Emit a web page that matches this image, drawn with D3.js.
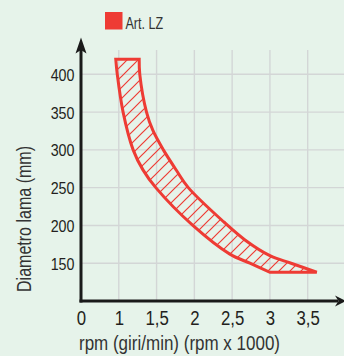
<!DOCTYPE html>
<html><head><meta charset="utf-8">
<script src="https://cdn.jsdelivr.net/npm/d3@7"></script>
<style>
html,body{margin:0;padding:0;background:#e6f3ea;}
svg{display:block;}
text{font-family:"Liberation Sans",Arial,sans-serif;}
</style></head>
<body>
<script>
// ---- data ----
const seriesName = "Art. LZ";
// lower-left boundary (rpm x1000, diameter mm)
const leftRpm  = [0.96, 0.98, 1.057, 1.19, 1.32, 1.49, 1.98, 2.47, 2.735, 3.00];
const leftDia  = [420,  400,  350,   300,  273.5, 250, 200,  162,  150,   138];
// upper-right boundary
const rightRpm = [1.27, 1.278, 1.367, 1.45, 1.59, 1.762, 1.92, 2.39, 2.67, 3.00, 3.28, 3.62];
const rightDia = [420,  400,   350,   326,  300,  273,   250,  204.6, 180.8, 160, 150, 138];
// x ticks: first position labelled "0" (broken axis)
const xTickVals   = [0.5, 1, 1.5, 2, 2.5, 3, 3.5];
const xTickLabels = ["0", "1", "1,5", "2", "2,5", "3", "3,5"];
const yTickVals   = [150, 200, 250, 300, 350, 400];
const xTitle = "rpm (giri/min) (rpm x 1000)";
const yTitle = "Diametro lama (mm)";

// ---- layout ----
const W = 344, H = 356;
const red = "#ee3b34";
const x = d3.scaleLinear().domain([0.5, 3.5]).range([81, 307.7]);
const y = d3.scaleLinear().domain([100, 400]).range([301, 74.3]);
const gridTop = 50, gridRight = 344;

function condense(sel, f) {
  sel.each(function () {
    const L = this.getComputedTextLength();
    d3.select(this).attr("textLength", L * f).attr("lengthAdjust", "spacingAndGlyphs");
  });
}

const svg = d3.select("body").append("svg").attr("width", W).attr("height", H);
svg.append("rect").attr("width", W).attr("height", H).attr("fill", "#e6f3ea");

const defs = svg.append("defs");
const pat = defs.append("pattern").attr("id", "hatch")
  .attr("patternUnits", "userSpaceOnUse").attr("width", 11).attr("height", 11);
pat.append("path").attr("d", "M0,11 L11,0 M-2,2 L2,-2 M9,13 L13,9")
  .attr("stroke", red).attr("stroke-width", 1.2).attr("fill", "none");

// grid
const gv = svg.append("g");
xTickVals.slice(1).forEach(v => {
  gv.append("line").attr("x1", x(v)).attr("x2", x(v)).attr("y1", gridTop).attr("y2", y(100))
    .attr("stroke", "#d3d6d6").attr("stroke-width", 1.4);
});
yTickVals.forEach(v => {
  gv.append("line").attr("x1", x(0.5)).attr("x2", gridRight).attr("y1", y(v)).attr("y2", y(v))
    .attr("stroke", "#d3d6d6").attr("stroke-width", 1.4);
});

// area
const leftPts = leftRpm.map((r, i) => [x(r), y(leftDia[i])]);
const rightPts = rightRpm.map((r, i) => [x(r), y(rightDia[i])]).reverse();
const line = d3.line().curve(d3.curveCatmullRom.alpha(0.5));
const d = line(leftPts) + "L" + line(rightPts).slice(1) + "Z";
svg.append("path").attr("d", d).attr("fill", "url(#hatch)")
  .attr("stroke", red).attr("stroke-width", 3).attr("stroke-linejoin", "miter");

// axes
const ax = svg.append("g");
const ax0 = x(0.5), ay0 = y(100);
ax.append("line").attr("x1", ax0).attr("x2", ax0).attr("y1", 50).attr("y2", ay0 + 1.5)
  .attr("stroke", "#1a1a1a").attr("stroke-width", 3);
ax.append("line").attr("x1", ax0 - 1.5).attr("x2", 338).attr("y1", ay0).attr("y2", ay0)
  .attr("stroke", "#1a1a1a").attr("stroke-width", 3);
ax.append("path").attr("d", `M${ax0},37.5 L${ax0 + 5.5},53.5 L${ax0},50 L${ax0 - 5.5},53.5 Z`).attr("fill", "#1a1a1a");
ax.append("path").attr("d", `M346,${ay0} L335,${ay0 - 5.5} L338.5,${ay0} L335,${ay0 + 5.5} Z`).attr("fill", "#1a1a1a");

// tick labels
const xAxis = d3.axisBottom(x).tickValues(xTickVals).tickFormat((v, i) => xTickLabels[i]).tickSize(0).tickPadding(0);
const gx = svg.append("g").attr("transform", `translate(0,${ay0})`).call(xAxis);
gx.select(".domain").remove();
gx.selectAll("text").attr("dy", null).attr("y", 24).attr("font-size", 19.5)
  .attr("fill", "#231f20").style("font-family", '"Liberation Sans",Arial,sans-serif');
condense(gx.selectAll("text"), 0.86);

const yAxis = d3.axisLeft(y).tickValues(yTickVals).tickFormat(d3.format("d")).tickSize(0).tickPadding(0);
const gy = svg.append("g").attr("transform", `translate(74.5,0)`).call(yAxis);
gy.select(".domain").remove();
gy.selectAll("text").attr("x", 0).attr("dy", "0.35em").attr("font-size", 17)
  .attr("fill", "#231f20").style("font-family", '"Liberation Sans",Arial,sans-serif');
condense(gy.selectAll("text"), 0.84);

// titles
svg.append("text").attr("x", 79).attr("y", 350).attr("font-size", 20).attr("fill", "#333")
  .attr("textLength", 201).attr("lengthAdjust", "spacingAndGlyphs").text(xTitle);
svg.append("text").attr("transform", "translate(31,219) rotate(-90)").attr("text-anchor", "middle")
  .attr("font-size", 20).attr("fill", "#333")
  .attr("textLength", 146).attr("lengthAdjust", "spacingAndGlyphs").text(yTitle);

// legend
svg.append("rect").attr("x", 105).attr("y", 12).attr("width", 17.5).attr("height", 17.5).attr("fill", red);
svg.append("text").attr("x", 125.5).attr("y", 29).attr("font-size", 17).attr("fill", "#333")
  .attr("textLength", 37.6).attr("lengthAdjust", "spacingAndGlyphs").text(seriesName);
</script>
</body></html>
